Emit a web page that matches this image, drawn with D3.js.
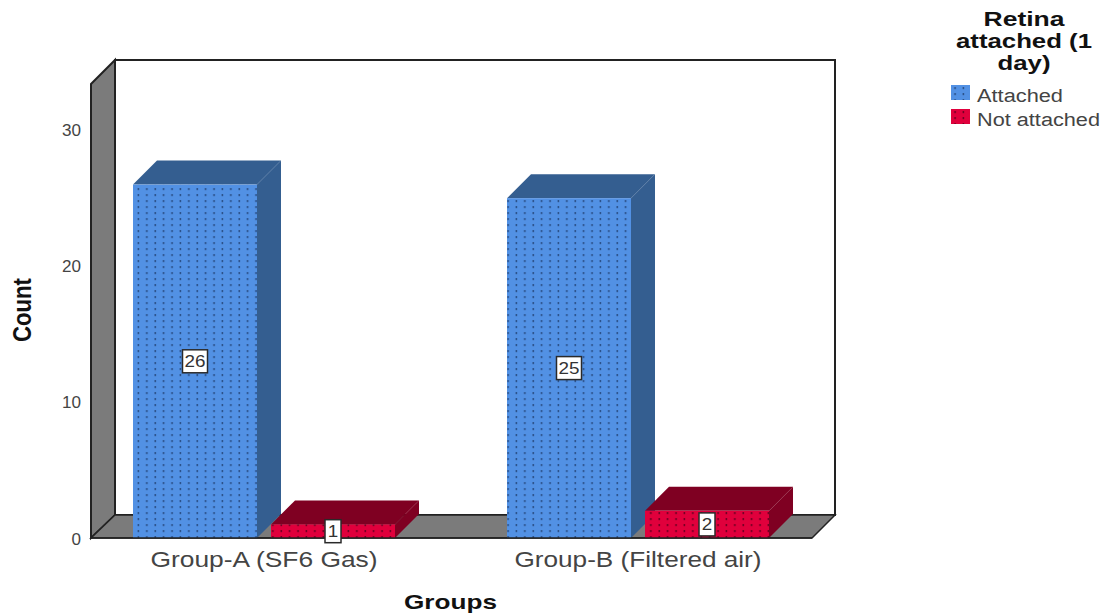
<!DOCTYPE html>
<html>
<head>
<meta charset="utf-8">
<script src="https://cdn.jsdelivr.net/npm/d3@7"></script>
<style>
  html, body { margin: 0; padding: 0; background: #fff; }
  svg { display: block; }
  text { font-family: "Liberation Sans", Arial, sans-serif; }
</style>
</head>
<body>
<svg id="chart" width="1110" height="616"></svg>
<script>
// Clustered 3D-style bar chart: retina attachment at 1 day by treatment group
const groups = ["Group-A (SF6 Gas)", "Group-B (Filtered air)"];
const seriesNames = ["Attached", "Not attached"];
const attachedCounts = [26, 25];
const notAttachedCounts = [1, 2];
const yTickValues = [0, 10, 20, 30];
const legendTitleLines = ["Retina", "attached (1", "day)"];

const seriesCounts = [attachedCounts, notAttachedCounts];
const faceColors = ["#5291e4", "#e0003c"];
const shadeColors = ["#345e90", "#7f0022"];
const dotColors = ["#2a4f86", "#6e0022"];

const svg = d3.select("#chart");
const depth = 24;               // oblique offset of the back plane
const yMax = 33.4;

const x0 = d3.scalePoint().domain(groups).range([264, 638]);
const x1 = d3.scaleBand().domain(seriesNames).range([-131, 131]).paddingInner(14 / 138);
const y = d3.scaleLinear().domain([0, yMax]).range([538, 84]);
const frameLeft = 91, frameRight = 812;
const path = pts => "M" + pts.map(p => p.join(",")).join("L") + "Z";

// Dotted fills for the bar fronts and legend swatches
const defs = svg.append("defs");
seriesNames.forEach((s, i) => {
  const p = defs.append("pattern")
    .attr("id", "dots" + i)
    .attr("patternUnits", "userSpaceOnUse")
    .attr("width", 8.4).attr("height", 6);
  p.append("rect").attr("width", 8.4).attr("height", 6).attr("fill", faceColors[i]);
  p.append("rect").attr("x", 3.3).attr("y", 2).attr("width", 1.5).attr("height", 2.2).attr("fill", dotColors[i]);
});

// Chart frame: back wall, left wall and floor
const wallStroke = "#222";
const topY = y(yMax), baseY = y(0);
svg.append("path")
  .attr("d", path([[frameLeft + depth, topY - depth], [frameRight + depth - 1, topY - depth], [frameRight + depth - 1, baseY - depth + 1], [frameLeft + depth, baseY - depth + 1]]))
  .attr("fill", "#fff").attr("stroke", wallStroke).attr("stroke-width", 2);
svg.append("path")
  .attr("d", path([[frameLeft, topY], [frameLeft + depth, topY - depth], [frameLeft + depth, baseY - depth + 1], [frameLeft, baseY]]))
  .attr("fill", "#7b7b7b").attr("stroke", wallStroke).attr("stroke-width", 2);
svg.append("path")
  .attr("d", path([[frameLeft, baseY], [frameLeft + depth, baseY - depth + 1], [frameRight + depth - 1, baseY - depth + 1], [frameRight, baseY]]))
  .attr("fill", "#7b7b7b").attr("stroke", wallStroke).attr("stroke-width", 1.5);

// Value axis
const yAxis = svg.append("g")
  .attr("transform", "translate(86,0)")
  .call(d3.axisLeft(y).tickValues(yTickValues).tickSize(0).tickPadding(5));
yAxis.select(".domain").remove();
yAxis.selectAll("text")
  .attr("font-size", 16).attr("fill", "#444")
  .style("font-family", '"Liberation Sans", Arial, sans-serif')
  .attr("y", d => d === 0 ? 1 : 0)
  .attr("textLength", d => d === 0 ? 9.5 : 19).attr("lengthAdjust", "spacingAndGlyphs");

// Bars: front face plus oblique top and side faces
const bars = groups.flatMap((g, gi) => seriesNames.map((s, si) => ({ g, s, si, value: seriesCounts[si][gi] })));
const bar = svg.append("g").selectAll("g").data(bars).join("g");
const bx = d => x0(d.g) + x1(d.s);
const bw = x1.bandwidth();

bar.append("path")
  .attr("d", d => path([[bx(d), y(d.value)], [bx(d) + depth, y(d.value) - depth], [bx(d) + bw + depth, y(d.value) - depth], [bx(d) + bw, y(d.value)]]))
  .attr("fill", d => shadeColors[d.si]);
bar.append("path")
  .attr("d", d => path([[bx(d) + bw, y(d.value)], [bx(d) + bw + depth, y(d.value) - depth], [bx(d) + bw + depth, y(0) - depth], [bx(d) + bw, y(0)]]))
  .attr("fill", d => shadeColors[d.si]);
bar.append("rect")
  .attr("x", bx).attr("y", d => y(d.value))
  .attr("width", bw).attr("height", d => y(0) - y(d.value))
  .attr("fill", d => `url(#dots${d.si})`);

// Front edge of the floor sits over the bars' feet
svg.append("line")
  .attr("x1", frameLeft).attr("x2", frameRight).attr("y1", baseY).attr("y2", baseY)
  .attr("stroke", wallStroke).attr("stroke-width", 1.5);

// Value labels in boxes at the middle of each bar
const label = svg.append("g").selectAll("g").data(bars).join("g")
  .attr("transform", d => `translate(${bx(d) + bw / 2},${(y(d.value) + y(0)) / 2})`);
label.append("rect")
  .attr("x", d => d.value >= 10 ? -12.5 : -8).attr("y", -11.5)
  .attr("width", d => d.value >= 10 ? 25 : 16).attr("height", 23)
  .attr("fill", "#fff").attr("stroke", "#2a2a2a").attr("stroke-width", 1.5);
label.append("text")
  .attr("text-anchor", "middle").attr("y", 6)
  .attr("font-size", 17).attr("fill", "#333")
  .attr("textLength", d => d.value >= 10 ? 21 : 10.5).attr("lengthAdjust", "spacingAndGlyphs")
  .text(d => d.value);

// Category labels
svg.append("g").selectAll("text").data(groups).join("text")
  .attr("x", d => x0(d)).attr("y", 567)
  .attr("text-anchor", "middle")
  .attr("font-size", 22)
  .attr("textLength", (d, i) => [227, 247][i])
  .attr("lengthAdjust", "spacingAndGlyphs")
  .attr("fill", "#444")
  .text(d => d);

// Axis titles
svg.append("text")
  .attr("x", 450.5).attr("y", 609).attr("text-anchor", "middle")
  .attr("font-size", 21).attr("font-weight", "bold")
  .attr("textLength", 93).attr("lengthAdjust", "spacingAndGlyphs")
  .attr("fill", "#111").text("Groups");
svg.append("text")
  .attr("transform", "translate(31,310) rotate(-90)")
  .attr("text-anchor", "middle")
  .attr("font-size", 25).attr("font-weight", "bold")
  .attr("textLength", 64).attr("lengthAdjust", "spacingAndGlyphs")
  .attr("fill", "#111").text("Count");

// Legend
svg.append("g").selectAll("text").data(legendTitleLines).join("text")
  .attr("x", 1024).attr("y", (d, i) => 26 + i * 22)
  .attr("text-anchor", "middle")
  .attr("font-size", 21).attr("font-weight", "bold")
  .attr("textLength", (d, i) => [81, 136, 53][i])
  .attr("lengthAdjust", "spacingAndGlyphs")
  .attr("fill", "#111")
  .text(d => d);
const legendItem = svg.append("g").selectAll("g").data(seriesNames).join("g")
  .attr("transform", (d, i) => `translate(951,${85 + i * 24})`);
legendItem.append("rect")
  .attr("width", 19).attr("height", 15)
  .attr("fill", (d, i) => `url(#dots${i})`);
legendItem.append("text")
  .attr("x", 26).attr("y", 16.5)
  .attr("font-size", 18)
  .attr("textLength", (d, i) => [86, 123][i])
  .attr("lengthAdjust", "spacingAndGlyphs")
  .attr("fill", "#444")
  .text(d => d);
</script>
</body>
</html>
